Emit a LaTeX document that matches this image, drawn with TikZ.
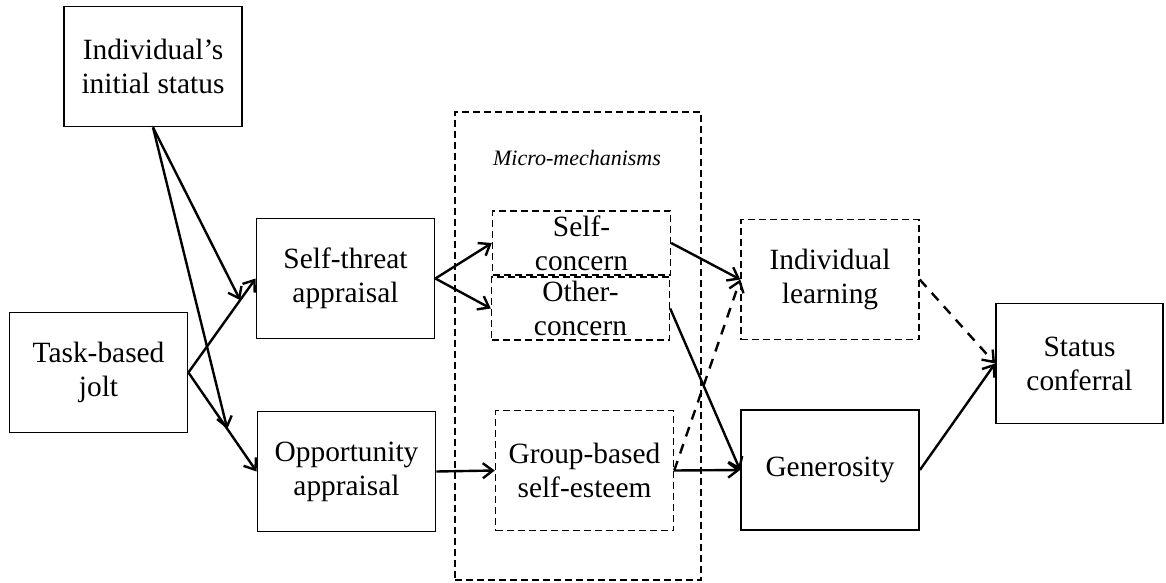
\documentclass[tikz,border=0pt]{standalone}
\usepackage{fontspec}
\setmainfont{Liberation Serif}
\usetikzlibrary{arrows.meta}

\begin{document}
\begin{tikzpicture}[x=0.5pt, y=-0.5pt, font=\fontsize{14.7}{17}\selectfont]
	% Stili dei blocchi e delle frecce
	\tikzset{blocco/.style={draw, line width=0.9pt, minimum width=89pt, minimum height=60pt, inner sep=0pt, align=center},
		bloccotr/.style={blocco, line width=0.7pt, dash pattern=on 3.5pt off 2pt},
		freccia/.style={line width=1.2pt, -{Straight Barb[length=5pt, width=7.5pt]}},
		frecciatr/.style={freccia, dash pattern=on 5pt off 4pt}}
	\useasboundingbox (0,0) rectangle (1166,583);
	
	% Riquadro dei micro-meccanismi
	\node[bloccotr, minimum width=123pt, minimum height=234pt] (micro) at (578, 346) {};
	\node[font=\fontsize{11}{13}\selectfont\itshape] (microlab) at (577, 158) {Micro-mechanisms};
	
	% Antecedenti
	\node[blocco] (init) at (153, 66.5) {Individual’s\\initial status};
	\node[blocco] (jolt) at (98.5, 372.5) {Task-based\\jolt};
	
	% Valutazioni
	\node[blocco] (threat) at (345.5, 278.5) {Self-threat\\appraisal};
	\node[blocco] (opp) at (346.5, 471.5) {Opportunity\\appraisal};
	
	% Meccanismi
	\node[bloccotr, minimum height=32pt] (self) at (581.5, 243) {Self-\\concern};
	\node[bloccotr, minimum height=31.5pt] (other) at (580.5, 308.5) {Other-\\concern};
	\node[bloccotr] (group) at (584.5, 470.5) {Group-based\\self-esteem};
	
	% Esiti
	\node[bloccotr] (learn) at (830, 279.5) {Individual\\learning};
	\node[blocco] (gen) at (830, 470) {Generosity};
	\node[blocco, minimum width=83.5pt] (status) at (1079.5, 363.5) {Status\\conferral};
	
	% Frecce dal jolt e moderazione dello status iniziale
	\draw[freccia] (jolt.east) -- coordinate[pos=0.77] (m1) (threat.west);
	\draw[freccia] (jolt.east) -- coordinate[pos=0.57] (m2) (opp.west);
	\draw[freccia] (init.south) -- (m1);
	\draw[freccia] (init.south) -- (m2);
	
	% Verso i meccanismi
	\draw[freccia] (threat.east) -- (self.west);
	\draw[freccia] (threat.east) -- (other.west);
	\draw[freccia] (opp.east) -- (group.west);
	
	% Verso gli esiti
	\draw[freccia] (self.east) -- (learn.west);
	\draw[freccia] (other.east) -- (gen.west);
	\draw[freccia] (group.east) -- (gen.west);
	\draw[frecciatr] (group.east) -- (learn.west);
	
	% Conferimento di status
	\draw[frecciatr] (learn.east) -- (status.west);
	\draw[freccia] (gen.east) -- (status.west);
	
\end{tikzpicture}
\end{document}
